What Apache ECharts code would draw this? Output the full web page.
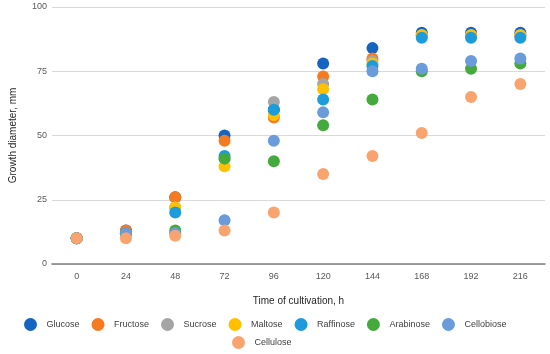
<!DOCTYPE html>
<html><head><meta charset="utf-8">
<script src="https://cdn.jsdelivr.net/npm/echarts@6/dist/echarts.min.js"></script>
<style>html,body{margin:0;padding:0;background:#fff}#c{width:550px;height:354px}</style>
</head><body><div id="c"></div>
<script>
var categories = ['0','24','48','72','96','120','144','168','192','216'];
var yTicks = [0,25,50,75,100];
var seriesNames = ['Glucose','Fructose','Sucrose','Maltose','Raffinose','Arabinose','Cellobiose','Cellulose'];
var glucose    = [10,13,26,50,60,78,84,90,90,90];
var fructose   = [10,13,26,48,57,73,80,89,89,89];
var sucrose    = [10,12,22,41,63,70,79,89,89,89];
var maltose    = [10,12,22,38,58,68,78,89,89,89];
var raffinose  = [10,12,20,42,60,64,77,88,88,88];
var arabinose  = [10,12,13,41,40,54,64,75,76,78];
var cellobiose = [10,12,12,17,48,59,75,76,79,80];
var cellulose  = [10,10,11,13,20,35,42,51,65,70];
var colors = ['#1565C0','#F47B20','#A5A5A5','#FFC000','#1E9BDB','#44AA3C','#6A9BDA','#F9A46F'];
var values = [glucose,fructose,sucrose,maltose,raffinose,arabinose,cellobiose,cellulose];

var chart = echarts.init(document.getElementById('c'));
var font = 'Liberation Sans, Arial, sans-serif';
chart.setOption({
  animation:false,
  color: colors,
  grid:{left:48,right:5,top:7,bottom:90},
  legend:[
    {data:seriesNames.slice(0,7), left:19, top:313, icon:'circle', itemWidth:22, itemHeight:13, itemGap:12,
     textStyle:{fontSize:9, color:'#404040', fontFamily:font}},
    {data:seriesNames.slice(7), left:227, top:331, icon:'circle', itemWidth:22, itemHeight:13,
     textStyle:{fontSize:9, color:'#404040', fontFamily:font}}
  ],
  xAxis:{type:'category', data:categories, boundaryGap:true,
    name:'Time of cultivation, h', nameLocation:'middle', nameGap:32,
    nameTextStyle:{fontSize:10,color:'#262626',fontFamily:font},
    axisLine:{lineStyle:{color:'#7f7f7f',width:1.5}}, axisTick:{show:false},
    axisLabel:{fontSize:9,color:'#595959',margin:8,fontFamily:font}},
  yAxis:{type:'value', min:yTicks[0], max:yTicks[yTicks.length-1], interval:25,
    name:'Growth diameter, mm', nameLocation:'middle', nameGap:34,
    nameTextStyle:{fontSize:10,color:'#262626',fontFamily:font},
    axisLine:{show:false}, axisTick:{show:false},
    axisLabel:{fontSize:9,color:'#595959',margin:5,fontFamily:font},
    splitLine:{lineStyle:{color:'#d9d9d9'}}},
  series: seriesNames.map(function(n,i){
    return {name:n, type:'scatter', data:values[i], symbol:'circle', symbolSize:12,
      itemStyle:{color:colors[i], opacity:1}};
  })
});
</script></body></html>
